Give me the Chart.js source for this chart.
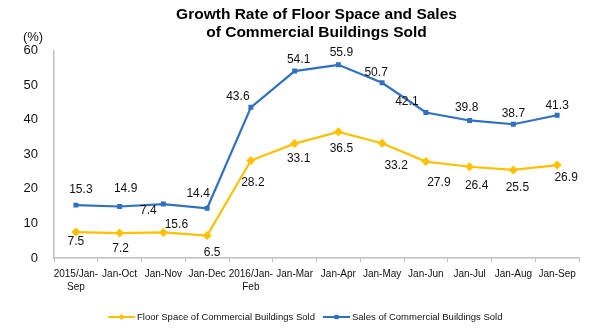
<!DOCTYPE html>
<html>
<head>
<meta charset="utf-8">
<script src="https://cdn.jsdelivr.net/npm/chart.js@4.4.1/dist/chart.umd.min.js"></script>
<style>
    html, body { margin: 0; padding: 0; background: #fff; }
    #wrap { width: 591px; height: 334px; }
</style>
</head>
<body>
<div id="wrap"><canvas id="grafico" width="591" height="334"></canvas></div>
<script>
    const categorias = [
        ['2015/Jan-', 'Sep'], 'Jan-Oct', 'Jan-Nov', 'Jan-Dec', ['2016/Jan-', 'Feb'],
        'Jan-Mar', 'Jan-Apr', 'Jan-May', 'Jan-Jun', 'Jan-Jul', 'Jan-Aug', 'Jan-Sep'
    ];
    const superficie = [7.5, 7.2, 7.4, 6.5, 28.2, 33.1, 36.5, 33.2, 27.9, 26.4, 25.5, 26.9];
    const ventas = [15.3, 14.9, 15.6, 14.4, 43.6, 54.1, 55.9, 50.7, 42.1, 39.8, 38.7, 41.3];
    const ticksY = [0, 10, 20, 30, 40, 50, 60];

    const AZUL = '#3070c0';
    const ORO = '#ffc000';
    const FUENTE = 'Arial, "Liberation Sans", sans-serif';

    // desplazamiento de cada etiqueta respecto a su punto (px)
    const offVentas = [[5, -15], [6, -18], [13, 21], [-9, -15], [-13, -11], [4, -11],
        [3, -12], [-6, -10], [-19, -11], [-3, -13], [0, -11], [0, -10]];
    const offSuperficie = [[0, 10], [1, 16], [-15, -22], [5, 17], [2, 22], [4, 15],
        [3, 17], [14, 22], [13, 21], [7, 19], [4, 18], [9, 13]];

    const etiquetas = {
        id: 'etiquetas',
        afterDatasetsDraw(chart) {
            const ctx = chart.ctx;
            ctx.save();
            ctx.font = '12px ' + FUENTE;
            ctx.fillStyle = '#111';
            ctx.textAlign = 'center';
            ctx.textBaseline = 'middle';
            chart.data.datasets.forEach((ds, i) => {
                const offs = i === 0 ? offSuperficie : offVentas;
                chart.getDatasetMeta(i).data.forEach((p, j) => {
                    ctx.fillText(ds.data[j].toFixed(1), p.x + offs[j][0], p.y + offs[j][1]);
                });
            });
            // unidad del eje
            ctx.font = '13px ' + FUENTE;
            ctx.fillText('(%)', 33, 37);
            ctx.restore();
        }
    };

    const leyenda = {
        id: 'leyenda',
        afterDraw(chart) {
            const ctx = chart.ctx;
            const y = 317;
            ctx.save();
            ctx.font = '9.5px ' + FUENTE;
            ctx.textBaseline = 'middle';
            const items = [
                { x: 108, color: ORO, texto: chart.data.datasets[0].label, estilo: 'rectRot' },
                { x: 323, color: AZUL, texto: chart.data.datasets[1].label, estilo: 'rect' }
            ];
            items.forEach((it) => {
                ctx.strokeStyle = it.color;
                ctx.lineWidth = 2;
                ctx.beginPath();
                ctx.moveTo(it.x, y);
                ctx.lineTo(it.x + 27, y);
                ctx.stroke();
                ctx.fillStyle = it.color;
                Chart.helpers.drawPoint(ctx, { pointStyle: it.estilo, radius: 3, borderWidth: 0 }, it.x + 13.5, y);
                ctx.fillStyle = '#111';
                ctx.fillText(it.texto, it.x + 29, y);
            });
            ctx.restore();
        }
    };

    new Chart(document.getElementById('grafico'), {
        type: 'line',
        data: {
            labels: categorias,
            datasets: [
                {
                    label: 'Floor Space of Commercial Buildings Sold',
                    data: superficie,
                    borderColor: ORO,
                    backgroundColor: ORO,
                    borderWidth: 2.2,
                    pointStyle: 'rectRot',
                    pointRadius: 4.5,
                    pointBorderWidth: 0,
                    tension: 0
                },
                {
                    label: 'Sales of Commercial Buildings Sold',
                    data: ventas,
                    borderColor: AZUL,
                    backgroundColor: AZUL,
                    borderWidth: 2.2,
                    pointStyle: 'rect',
                    pointRadius: 3.5,
                    pointBorderWidth: 0,
                    tension: 0
                }
            ]
        },
        options: {
            responsive: false,
            animation: false,
            layout: { padding: { left: 0, right: 12, top: 0, bottom: 31 } },
            plugins: {
                legend: { display: false },
                tooltip: { enabled: false },
                title: {
                    display: true,
                    fullSize: false,
                    text: ['Growth Rate of Floor Space and Sales', 'of Commercial Buildings Sold'],
                    color: '#000',
                    font: { family: FUENTE, size: 15.5, weight: 'bold', lineHeight: 1.15 },
                    padding: { top: 6, bottom: 9 }
                }
            },
            scales: {
                x: {
                    offset: true,
                    border: { color: '#bfbfbf', width: 1.5 },
                    grid: { display: true, drawOnChartArea: false, offset: true, color: '#bfbfbf', tickLength: 4 },
                    ticks: {
                        color: '#111',
                        font: { family: FUENTE, size: 10, lineHeight: 1.35 },
                        maxRotation: 0,
                        autoSkip: false,
                        padding: 5
                    },
                    afterFit(axis) { axis.height = 45; }
                },
                y: {
                    min: 0,
                    max: 60,
                    afterBuildTicks(axis) { axis.ticks = ticksY.map((v) => ({ value: v })); },
                    border: { color: '#bfbfbf', width: 1.5 },
                    grid: { display: false, drawTicks: false },
                    ticks: {
                        color: '#111',
                        font: { family: FUENTE, size: 13 },
                        padding: 16
                    },
                    afterFit(axis) { axis.width = 54; }
                }
            }
        },
        plugins: [etiquetas, leyenda]
    });
</script>
</body>
</html>
